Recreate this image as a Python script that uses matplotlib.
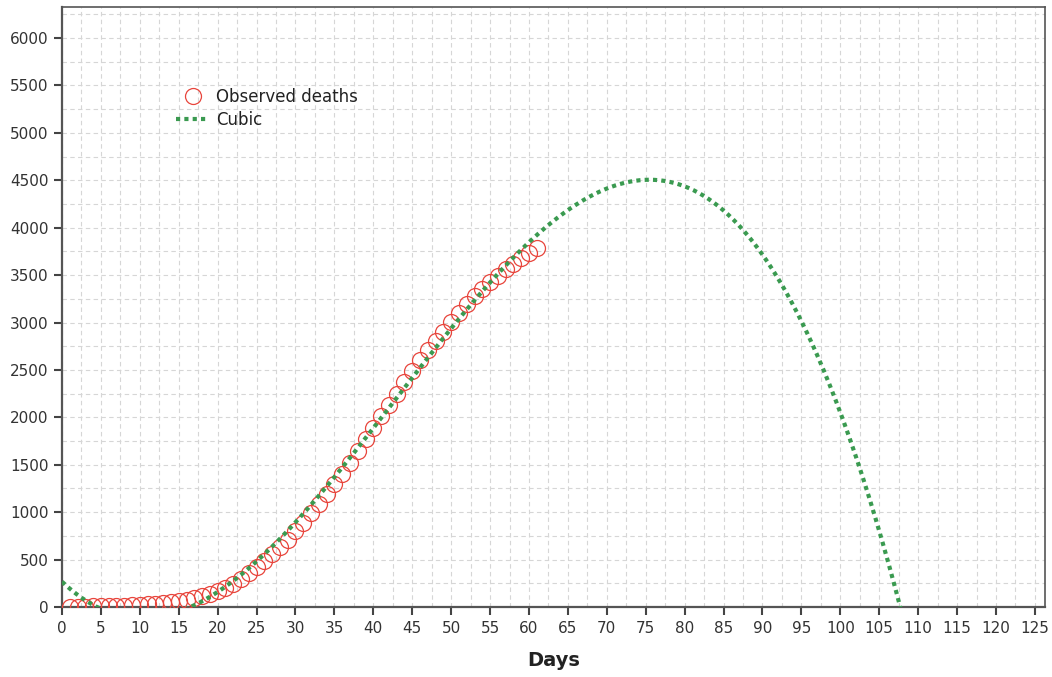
import numpy as np
import matplotlib
matplotlib.use('Agg')
import matplotlib.pyplot as plt
from matplotlib.ticker import MultipleLocator

days = list(range(1, 62))
deaths = [3, 4, 5, 6, 8, 10, 12, 15, 18, 22,
          28, 35, 42, 50, 58, 70, 90, 115, 140, 165,
          200, 245, 300, 355, 420, 490, 555, 630, 710, 800,
          890, 990, 1090, 1195, 1300, 1405, 1515, 1640, 1770, 1890,
          2010, 2130, 2250, 2370, 2485, 2600, 2710, 2810, 2905, 3005,
          3095, 3190, 3275, 3350, 3425, 3490, 3560, 3620, 3685, 3735,
          3790]
# cubic fit: b0 + b1*x + b2*x^2 + b3*x^3
cubic = [267.1, -78.02, 4.2986, -0.0334]

red = '#e8453c'
green = '#3a9a50'

fig = plt.figure(figsize=(10.52, 6.77), dpi=100)
ax = fig.add_axes([62/1052, 70/677, 983/1052, 600/677])

xs = np.linspace(0, 126.3, 600)
ys = cubic[0] + cubic[1]*xs + cubic[2]*xs**2 + cubic[3]*xs**3

ax.plot(days, deaths, linestyle='none', marker='o', markersize=11.5,
        markerfacecolor='none', markeredgecolor=red, markeredgewidth=0.9,
        label='Observed deaths', zorder=3)
ax.plot(xs, ys, color=green, linestyle=(0, (1, 1)), linewidth=3,
        dash_capstyle='butt', label='Cubic', zorder=4)

ax.set_xlim(0, 126.3)
ax.set_ylim(0, 6327)
ax.xaxis.set_major_locator(MultipleLocator(5))
ax.xaxis.set_minor_locator(MultipleLocator(2.5))
ax.yaxis.set_major_locator(MultipleLocator(500))
ax.yaxis.set_minor_locator(MultipleLocator(250))
ax.grid(True, which='both', color='#d6d6d6', linestyle=(0, (4, 3)), linewidth=0.8)
ax.set_axisbelow(True)

ax.tick_params(which='major', direction='out', length=6, width=1.5,
               color='#444444', labelcolor='#333333', labelsize=11)
ax.tick_params(axis='x', which='major', pad=4)
ax.tick_params(which='minor', length=0)
for s in ax.spines.values():
    s.set_color('#555555')
ax.spines['left'].set_linewidth(1.6)
ax.spines['bottom'].set_linewidth(1.6)
ax.spines['top'].set_linewidth(1.2)
ax.spines['right'].set_linewidth(1.2)

ax.set_xlabel('Days', fontsize=14, fontweight='bold', color='#222222', labelpad=11)

leg = ax.legend(loc='upper left', bbox_to_anchor=(176/1052, 1 - 88/677),
                bbox_transform=fig.transFigure, frameon=False, fontsize=12,
                handlelength=2.0, handletextpad=0.4, labelspacing=0.3,
                borderpad=0, borderaxespad=0)
for t in leg.get_texts():
    t.set_color('#222222')

fig.savefig('out.png', dpi=100)
